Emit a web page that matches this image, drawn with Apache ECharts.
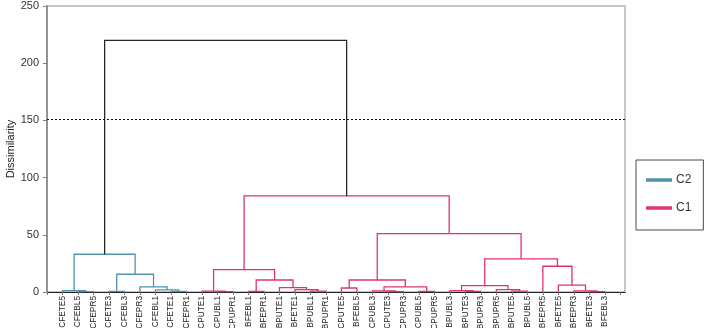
<!DOCTYPE html>
<html>
<head>
<meta charset="utf-8">
<script src="https://cdn.jsdelivr.net/npm/echarts@6/dist/echarts.min.js"></script>
<style>
html,body{margin:0;padding:0;background:#fff;}
#chart{width:709px;height:328px;}
</style>
</head>
<body>
<div id="chart"></div>
<script>
//叶子标签（从左到右）
var leafNames = ['CFETE5','CFEBL5','CFEPR5','CFETE3','CFEBL3','CFEPR3','CFEBL1','CFETE1','CFEPR1',
    'CPUTE1','CPUBL1','CPUPR1','BFEBL1','BFEPR1','BPUTE1','BFETE1','BPUBL1','BPUPR1',
    'CPUTE5','BFEBL5','CPUBL3','CPUTE3','CPUPR3','CPUBL5','CPUPR5',
    'BPUBL3','BPUTE3','BPUPR3','BPUPR5','BPUTE5','BPUBL5',
    'BFEPR5','BFETE5','BFEPR3','BFETE3','BFEBL3'];

//合并记录: 0-35是叶子, 36起是合并节点
var mergeA      = [1, 0, 3, 7, 6, 5, 38, 37,   10, 9, 12, 16, 15, 14, 46, 45, 18, 21, 20, 23, 54, 52, 26, 25, 29, 28, 59, 34, 33, 32, 31, 62, 57, 51,   43];
var mergeB      = [2, 36, 4, 8, 39, 40, 41, 42, 11, 44, 13, 17, 47, 48, 49, 50, 19, 22, 53, 24, 55, 56, 27, 58, 30, 60, 61, 35, 63, 64, 65, 66, 67, 68,  69];
var mergeHeight = [0.4, 1.2, 0.5, 0.5, 1.8, 4.5, 15.5, 33,
    0.3, 0.8, 0.5, 0.8, 2.0, 3.8, 10.5, 19.5, 3.5, 0.4, 0.9, 0.6, 4.5, 10.5,
    0.5, 1.2, 0.8, 2.0, 5.5, 0.4, 1.0, 6.0, 22.5, 29, 51, 84,
    220];
var mergeGroup  = ['C2','C2','C2','C2','C2','C2','C2','C2',
    'C1','C1','C1','C1','C1','C1','C1','C1','C1','C1','C1','C1','C1','C1',
    'C1','C1','C1','C1','C1','C1','C1','C1','C1','C1','C1','C1',
    'root'];
var yTicks = [0, 50, 100, 150, 200, 250];
var cutHeight = 151;

var groupColor = {C2: '#4f93ad', C1: '#e0336f', root: '#262626'};

//计算每个节点的位置
var nodeX = [], nodeY = [];
for (var i = 0; i < leafNames.length; i++) { nodeX.push(i); nodeY.push(0); }
var segs = {C2: [], C1: [], root: []};
for (var k = 0; k < mergeA.length; k++) {
    var a = mergeA[k], b = mergeB[k], h = mergeHeight[k];
    segs[mergeGroup[k]].push({coords: [[nodeX[a], nodeY[a]], [nodeX[a], h], [nodeX[b], h], [nodeX[b], nodeY[b]]]});
    nodeX.push((nodeX[a] + nodeX[b]) / 2);
    nodeY.push(h);
}

function makeSeries(name) {
    return {
        name: name,
        type: 'lines',
        coordinateSystem: 'cartesian2d',
        polyline: true,
        silent: true,
        animation: false,
        itemStyle: {color: groupColor[name]},
        lineStyle: {color: groupColor[name], width: 1.3, opacity: 1},
        data: segs[name]
    };
}

var rootSeries = makeSeries('root');
rootSeries.markLine = {
    silent: true,
    symbol: ['none', 'none'],
    label: {show: false},
    lineStyle: {color: '#111', type: [2, 2], width: 1},
    data: [{yAxis: cutHeight}]
};

var myChart = echarts.init(document.getElementById('chart'));
var option = {
    animation: false,
    textStyle: {fontFamily: 'Liberation Sans, Arial, sans-serif'},
    grid: {left: 47, right: 84, top: 6, bottom: 36, show: true, borderColor: '#c6c6c6', borderWidth: 2,
        containLabel: false, outerBoundsMode: 'none'},
    legend: {
        orient: 'vertical',
        left: 636,
        top: 160,
        data: ['C2', 'C1'],
        icon: 'rect',
        itemWidth: 24,
        itemHeight: 1.5,
        itemGap: 16,
        padding: [14, 12, 16, 10],
        borderColor: '#4a4a4a',
        borderWidth: 1,
        textStyle: {fontSize: 12, color: '#333'}
    },
    xAxis: {
        type: 'value',
        min: -1,
        max: 36.3,
        interval: 1,
        splitLine: {show: false},
        axisLine: {onZero: false, lineStyle: {color: '#222', width: 1}},
        axisTick: {show: true, length: 3, lineStyle: {color: '#777'}},
        axisLabel: {
            rotate: 90,
            fontSize: 8.3,
            color: '#222',
            margin: 4,
            showMinLabel: true,
            showMaxLabel: false,
            formatter: function (v) {
                var idx = Math.round(v);
                if (Math.abs(v - idx) > 0.01) return '';
                return leafNames[idx] || '';
            }
        }
    },
    yAxis: {
        type: 'value',
        min: yTicks[0],
        max: yTicks[yTicks.length - 1],
        interval: 50,
        name: 'Dissimilarity',
        nameLocation: 'middle',
        nameGap: 31,
        nameMoveOverlap: false,
        nameTextStyle: {fontSize: 11, color: '#222'},
        splitLine: {show: false},
        axisLine: {show: true, onZero: false, lineStyle: {color: '#808080', width: 1.5}},
        axisTick: {show: true, length: 4, lineStyle: {color: '#808080'}},
        axisLabel: {fontSize: 11, color: '#333', margin: 8}
    },
    series: [makeSeries('C2'), makeSeries('C1'), rootSeries]
};
myChart.setOption(option);
</script>
</body>
</html>
